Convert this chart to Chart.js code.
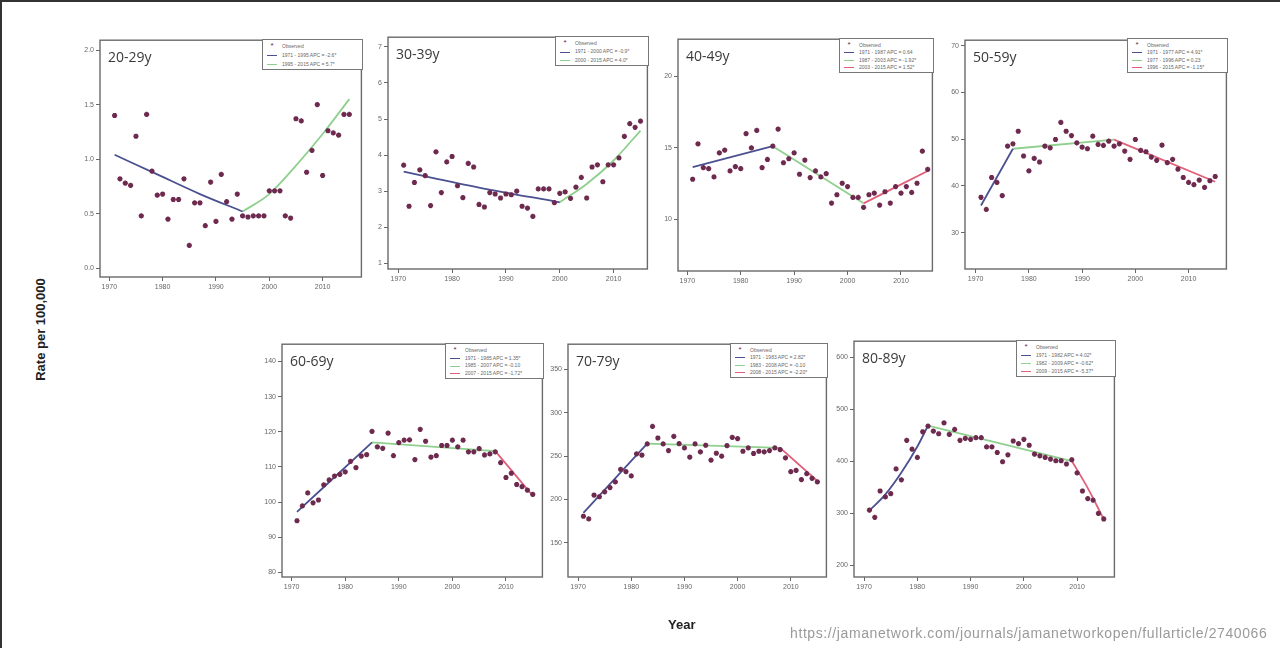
<!DOCTYPE html>
<html><head><meta charset="utf-8">
<script src="https://cdn.jsdelivr.net/npm/chart.js@4.4.1/dist/chart.umd.min.js"></script>
<style>
html,body{margin:0;padding:0;background:#fff;}
#wrap{position:relative;width:1280px;height:648px;overflow:hidden;background:#fff;}
#frame{position:absolute;left:0;top:0;width:1280px;height:648px;border-left:2px solid #333;border-top:2px solid #333;box-sizing:border-box;pointer-events:none;}
canvas{position:absolute;}
.ttl{position:absolute;font-family:"Open Sans",sans-serif;font-size:14px;color:#3a3a3a;line-height:1;white-space:nowrap;}
.lg{position:absolute;border:1px solid #777;background:#fff;font-family:"Liberation Sans",Arial,sans-serif;font-size:5px;color:#666;box-sizing:border-box;padding:2px 3px;}
.lg .row{display:flex;align-items:center;white-space:nowrap;}
.lg .smp{display:inline-block;width:12px;margin-right:4px;text-align:center;}
.lg .ln{display:inline-block;width:10px;height:0;border-top:1.5px solid #000;vertical-align:middle;}
.ylab{position:absolute;font-family:"Liberation Sans",Arial,sans-serif;font-weight:bold;font-size:13px;color:#222;transform:rotate(-90deg);transform-origin:center;white-space:nowrap;}
.xlab{position:absolute;font-family:"Liberation Sans",Arial,sans-serif;font-weight:bold;font-size:13px;color:#222;white-space:nowrap;}
.url{position:absolute;font-family:"Liberation Sans",Arial,sans-serif;font-size:14px;letter-spacing:0.6px;color:#9a9a9a;white-space:nowrap;}
</style></head>
<body><div id="wrap"><div id="frame"></div></div>
<script>
// ---------- DATA ----------
const YEARS = [1971,1972,1973,1974,1975,1976,1977,1978,1979,1980,1981,1982,1983,1984,1985,1986,1987,1988,1989,1990,1991,1992,1993,1994,1995,1996,1997,1998,1999,2000,2001,2002,2003,2004,2005,2006,2007,2008,2009,2010,2011,2012,2013,2014,2015];
const X_TICKS = [1970,1980,1990,2000,2010];

const OBS_20_29 = [1.40,0.82,0.78,0.76,1.21,0.48,1.41,0.89,0.67,0.68,0.45,0.63,0.63,0.82,0.21,0.60,0.60,0.39,0.79,0.43,0.86,0.61,0.45,0.68,0.48,0.47,0.48,0.48,0.48,0.71,0.71,0.71,0.48,0.46,1.37,1.35,0.88,1.08,1.50,0.85,1.26,1.24,1.22,1.41,1.41];
const OBS_30_39 = [3.72,2.58,3.24,3.59,3.43,2.60,4.09,2.96,3.81,3.96,3.15,2.82,3.77,3.67,2.63,2.56,2.96,2.92,2.81,2.92,2.90,3.00,2.58,2.53,2.30,3.06,3.06,3.06,2.68,2.94,2.98,2.80,3.11,3.38,2.81,3.67,3.73,3.26,3.73,3.73,3.92,4.52,4.87,4.77,4.94];
const OBS_40_49 = [12.81,15.28,13.62,13.55,12.97,14.65,14.84,13.39,13.69,13.55,15.99,15.00,16.22,13.62,14.19,15.12,16.31,13.96,14.24,14.65,13.16,14.15,12.93,13.39,12.97,13.20,11.15,11.73,12.53,12.30,11.54,11.54,10.85,11.73,11.84,11.01,11.94,11.15,12.30,11.84,12.30,11.89,12.53,14.77,13.50];
const OBS_50_59 = [37.56,34.95,41.80,40.74,37.92,48.52,49.01,51.70,46.40,43.22,45.90,45.12,48.52,48.16,49.93,53.60,51.70,50.78,49.22,48.30,47.95,50.64,48.87,48.66,49.58,48.52,49.01,47.46,45.69,49.93,47.60,47.31,46.18,45.48,48.73,44.98,45.69,43.57,41.80,40.74,40.25,41.24,39.68,41.10,42.01];
const OBS_60_69 = [94.7,98.9,102.6,99.8,100.6,104.9,106.3,107.4,107.9,108.6,111.6,109.8,113.1,113.5,120.1,115.7,115.3,119.6,113.2,116.9,117.6,117.7,112.1,120.7,117.3,112.8,113.2,116.1,116.1,117.6,115.7,117.6,114.3,114.3,115.2,113.4,113.7,114.3,111.2,107.0,108.2,105.0,104.4,103.4,102.2];
const OBS_70_79 = [180.5,177.4,204.9,203.0,208.7,213.6,220.1,234.6,232.0,227.0,252.5,251.0,263.9,284.1,270.8,263.9,256.3,272.7,264.3,259.3,248.7,263.9,254.8,262.4,245.2,253.2,249.8,262.0,271.5,270.0,255.5,259.3,252.9,255.5,254.8,256.3,259.3,257.4,247.9,231.9,233.4,222.8,229.6,224.3,220.1];
const OBS_80_89 = [305.7,291.8,342.4,331.0,337.3,384.8,363.9,439.9,422.8,406.9,456.3,467.1,457.6,452.5,473.4,451.3,460.8,439.9,443.7,441.8,444.9,444.9,427.2,427.2,416.4,398.7,412.0,438.6,433.5,441.8,430.4,413.3,410.1,406.9,403.8,400.6,400.6,394.3,402.5,377.2,342.4,327.8,324.7,299.4,288.6];

// joinpoint fitted segments (years / values)
const FIT_20_29_A_YRS = [1971,1979,1987,1995], FIT_20_29_A = [1.04,0.86,0.68,0.52];
const FIT_20_29_B_YRS = [1995,2000,2005,2010,2015], FIT_20_29_B = [0.52,0.68,0.94,1.23,1.55];
const FIT_30_39_A_YRS = [1971,1985,2000], FIT_30_39_A = [3.54,3.10,2.69];
const FIT_30_39_B_YRS = [2000,2005,2010,2015], FIT_30_39_B = [2.69,3.20,3.85,4.68];
const FIT_40_49_A_YRS = [1971,1986], FIT_40_49_A = [13.66,15.12];
const FIT_40_49_B_YRS = [1986,2003], FIT_40_49_B = [15.12,11.13];
const FIT_40_49_C_YRS = [2003,2015], FIT_40_49_C = [11.13,13.39];
const FIT_50_59_A_YRS = [1971,1977], FIT_50_59_A = [35.8,47.95];
const FIT_50_59_B_YRS = [1977,1996], FIT_50_59_B = [47.95,49.9];
const FIT_50_59_C_YRS = [1996,2015], FIT_50_59_C = [49.9,40.88];
const FIT_60_69_A_YRS = [1971,1985], FIT_60_69_A = [97.2,117.0];
const FIT_60_69_B_YRS = [1985,2008], FIT_60_69_B = [117.0,114.5];
const FIT_60_69_C_YRS = [2008,2015], FIT_60_69_C = [114.5,101.8];
const FIT_70_79_A_YRS = [1971,1983], FIT_70_79_A = [184.3,264.3];
const FIT_70_79_B_YRS = [1983,2008], FIT_70_79_B = [264.3,259.3];
const FIT_70_79_C_YRS = [2008,2015], FIT_70_79_C = [259.3,221.2];
const FIT_80_89_A_YRS = [1971,1974,1977,1980,1982], FIT_80_89_A = [305,336,378,428,468];
const FIT_80_89_B_YRS = [1982,2009], FIT_80_89_B = [468,400];
const FIT_80_89_C_YRS = [2009,2012,2015], FIT_80_89_C = [400,348,288];

const Y_TICKS_20_29 = [0,0.5,1,1.5,2];
const Y_TICKS_30_39 = [1,2,3,4,5,6,7];
const Y_TICKS_40_49 = [10,15,20];
const Y_TICKS_50_59 = [30,40,50,60,70];
const Y_TICKS_60_69 = [80,90,100,110,120,130,140];
const Y_TICKS_70_79 = [150,200,250,300,350];
const Y_TICKS_80_89 = [200,300,400,500,600];

const TITLES = ["20-29y","30-39y","40-49y","50-59y","60-69y","70-79y","80-89y"];
const LEGENDS = [
  ["1971 - 1995 APC = -2.6*","1995 - 2015 APC = 5.7*"],
  ["1971 - 2000 APC = -0.9*","2000 - 2015 APC = 4.0*"],
  ["1971 - 1987 APC = 0.64","1987 - 2003 APC = -1.92*","2003 - 2015 APC = 1.52*"],
  ["1971 - 1977 APC = 4.91*","1977 - 1996 APC = 0.23","1996 - 2015 APC = -1.15*"],
  ["1971 - 1985 APC = 1.35*","1985 - 2007 APC = -0.10","2007 - 2015 APC = -1.72*"],
  ["1971 - 1983 APC = 2.82*","1983 - 2008 APC = -0.10","2008 - 2015 APC = -2.20*"],
  ["1971 - 1982 APC = 4.02*","1982 - 2009 APC = -0.62*","2009 - 2015 APC = -5.37*"]
];

// ---------- STYLE / LAYOUT ----------
const C_OBS = '#6e2a4e', C_A = '#4b5190', C_B = '#8fd08f', C_C = '#e0607a';
const PANELS = [
  {L:100,T:38,R:363,B:277,x:[1968.26,2017.27],y:[-0.08,2.09],yt:Y_TICKS_20_29,dec:1,obs:OBS_20_29,
   fits:[[FIT_20_29_A_YRS,FIT_20_29_A,C_A],[FIT_20_29_B_YRS,FIT_20_29_B,C_B]],lg:[262,39,101,31]},
  {L:388,T:35,R:649,B:269,x:[1968.09,2016.28],y:[0.84,7.27],yt:Y_TICKS_30_39,dec:0,obs:OBS_30_39,
   fits:[[FIT_30_39_A_YRS,FIT_30_39_A,C_A],[FIT_30_39_B_YRS,FIT_30_39_B,C_B]],lg:[555,36,94,30]},
  {L:678,T:37,R:934,B:271,x:[1968.26,2015.88],y:[6.41,22.58],yt:Y_TICKS_40_49,dec:0,obs:OBS_40_49,
   fits:[[FIT_40_49_A_YRS,FIT_40_49_A,C_A],[FIT_40_49_B_YRS,FIT_40_49_B,C_B],[FIT_40_49_C_YRS,FIT_40_49_C,C_C]],lg:[839,38,95,35]},
  {L:965,T:38,R:1228,B:269,x:[1968.0,2017.1],y:[22.2,71.2],yt:Y_TICKS_50_59,dec:0,obs:OBS_50_59,
   fits:[[FIT_50_59_A_YRS,FIT_50_59_A,C_A],[FIT_50_59_B_YRS,FIT_50_59_B,C_B],[FIT_50_59_C_YRS,FIT_50_59_C,C_C]],lg:[1127,38,101,35]},
  {L:282,T:342,R:544,B:577,x:[1968.2,2016.8],y:[78.7,144.9],yt:Y_TICKS_60_69,dec:0,obs:OBS_60_69,
   fits:[[FIT_60_69_A_YRS,FIT_60_69_A,C_A],[FIT_60_69_B_YRS,FIT_60_69_B,C_B],[FIT_60_69_C_YRS,FIT_60_69_C,C_C]],lg:[445,343,99,36]},
  {L:568,T:342,R:828,B:577,x:[1968.1,2016.7],y:[110.4,379],yt:Y_TICKS_70_79,dec:0,obs:OBS_70_79,
   fits:[[FIT_70_79_A_YRS,FIT_70_79_A,C_A],[FIT_70_79_B_YRS,FIT_70_79_B,C_B],[FIT_70_79_C_YRS,FIT_70_79_C,C_C]],lg:[730,343,98,35]},
  {L:854,T:339,R:1116,B:577,x:[1968.1,2017.0],y:[177,630.5],yt:Y_TICKS_80_89,dec:0,obs:OBS_80_89,
   fits:[[FIT_80_89_A_YRS,FIT_80_89_A,C_A],[FIT_80_89_B_YRS,FIT_80_89_B,C_B],[FIT_80_89_C_YRS,FIT_80_89_C,C_C]],lg:[1016,340,100,37]}
];

const wrap = document.getElementById('wrap');
const YW = 32, XH = 26, PT = 4, PR = 4;

const boxPlugin = {
  id:'box',
  afterDatasetsDraw(c){
    const a=c.chartArea, ctx=c.ctx;
    ctx.save(); ctx.strokeStyle='#6a6a6a'; ctx.lineWidth=1.4;
    ctx.strokeRect(a.left,a.top,a.right-a.left,a.bottom-a.top);
    ctx.restore();
  }
};

PANELS.forEach((p,i)=>{
  const cv = document.createElement('canvas');
  const w = p.R-p.L+YW+PR, h = p.B-p.T+PT+XH;
  cv.width=w; cv.height=h;
  cv.style.left=(p.L-YW)+'px'; cv.style.top=(p.T-PT)+'px';
  cv.style.width=w+'px'; cv.style.height=h+'px';
  wrap.appendChild(cv);

  const datasets = [{
    label:'Observed',
    data: YEARS.map((yr,k)=>({x:yr,y:p.obs[k]})),
    showLine:false, pointStyle:'star', pointRadius:2.6, pointBorderWidth:1.6,
    borderColor:C_OBS, backgroundColor:C_OBS
  }];
  p.fits.forEach(f=>{
    datasets.push({
      label:'fit', data: f[0].map((yr,k)=>({x:yr,y:f[1][k]})),
      showLine:true, pointRadius:0, borderColor:f[2], borderWidth:1.8,
      cubicInterpolationMode:'monotone', fill:false
    });
  });

  new Chart(cv,{
    type:'scatter',
    data:{datasets},
    plugins:[boxPlugin],
    options:{
      responsive:false, animation:false, devicePixelRatio:1,
      layout:{padding:{left:0,top:PT,right:PR,bottom:0}},
      plugins:{legend:{display:false},tooltip:{enabled:false},title:{display:false}},
      scales:{
        x:{type:'linear',min:p.x[0],max:p.x[1],
           afterBuildTicks:s=>{s.ticks=X_TICKS.map(v=>({value:v}));},
           afterFit:s=>{s.height=XH;},
           grid:{display:true,drawOnChartArea:false,drawTicks:true,tickLength:4,color:'#666',lineWidth:1},
           border:{display:false},
           ticks:{font:{size:7,family:'"Liberation Sans",Arial'},color:'#666',padding:2,maxRotation:0,autoSkip:false,
                  callback:v=>String(v)}},
        y:{type:'linear',min:p.y[0],max:p.y[1],
           afterBuildTicks:s=>{s.ticks=p.yt.map(v=>({value:v}));},
           afterFit:s=>{s.width=YW;},
           grid:{display:true,drawOnChartArea:false,drawTicks:true,tickLength:4,color:'#666',lineWidth:1},
           border:{display:false},
           ticks:{font:{size:7,family:'"Liberation Sans",Arial'},color:'#666',padding:2,autoSkip:false,
                  callback:v=>p.dec?Number(v).toFixed(1):String(v)}}
      }
    }
  });

  const t = document.createElement('div');
  t.className='ttl'; t.textContent=TITLES[i];
  t.style.left=(p.L+8)+'px'; t.style.top=(p.T+12)+'px';
  wrap.appendChild(t);

  const lg = document.createElement('div');
  lg.className='lg';
  lg.style.left=p.lg[0]+'px'; lg.style.top=p.lg[1]+'px';
  lg.style.width=p.lg[2]+'px'; lg.style.height=p.lg[3]+'px';
  const rows = LEGENDS[i].length+1;
  const rh = (p.lg[3]-5)/rows;
  let html = '<div class="row" style="height:'+rh+'px"><span class="smp" style="color:'+C_OBS+';font-size:8px;line-height:1">*</span><span>Observed</span></div>';
  LEGENDS[i].forEach((txt,k)=>{
    html += '<div class="row" style="height:'+rh+'px"><span class="smp"><span class="ln" style="border-top-color:'+p.fits[k][2]+'"></span></span><span>'+txt+'</span></div>';
  });
  lg.innerHTML = html;
  wrap.appendChild(lg);
});

const yl = document.createElement('div');
yl.className='ylab'; yl.textContent='Rate per 100,000';
yl.style.left=(40-60)+'px'; yl.style.top=(330-8)+'px'; yl.style.width='120px'; yl.style.textAlign='center';
wrap.appendChild(yl);

const xl = document.createElement('div');
xl.className='xlab'; xl.textContent='Year';
xl.style.left='668px'; xl.style.top='617px';
wrap.appendChild(xl);

const u = document.createElement('div');
u.className='url'; u.textContent='https://jamanetwork.com/journals/jamanetworkopen/fullarticle/2740066';
u.style.left='790px'; u.style.top='625px';
wrap.appendChild(u);
</script>
</body></html>
